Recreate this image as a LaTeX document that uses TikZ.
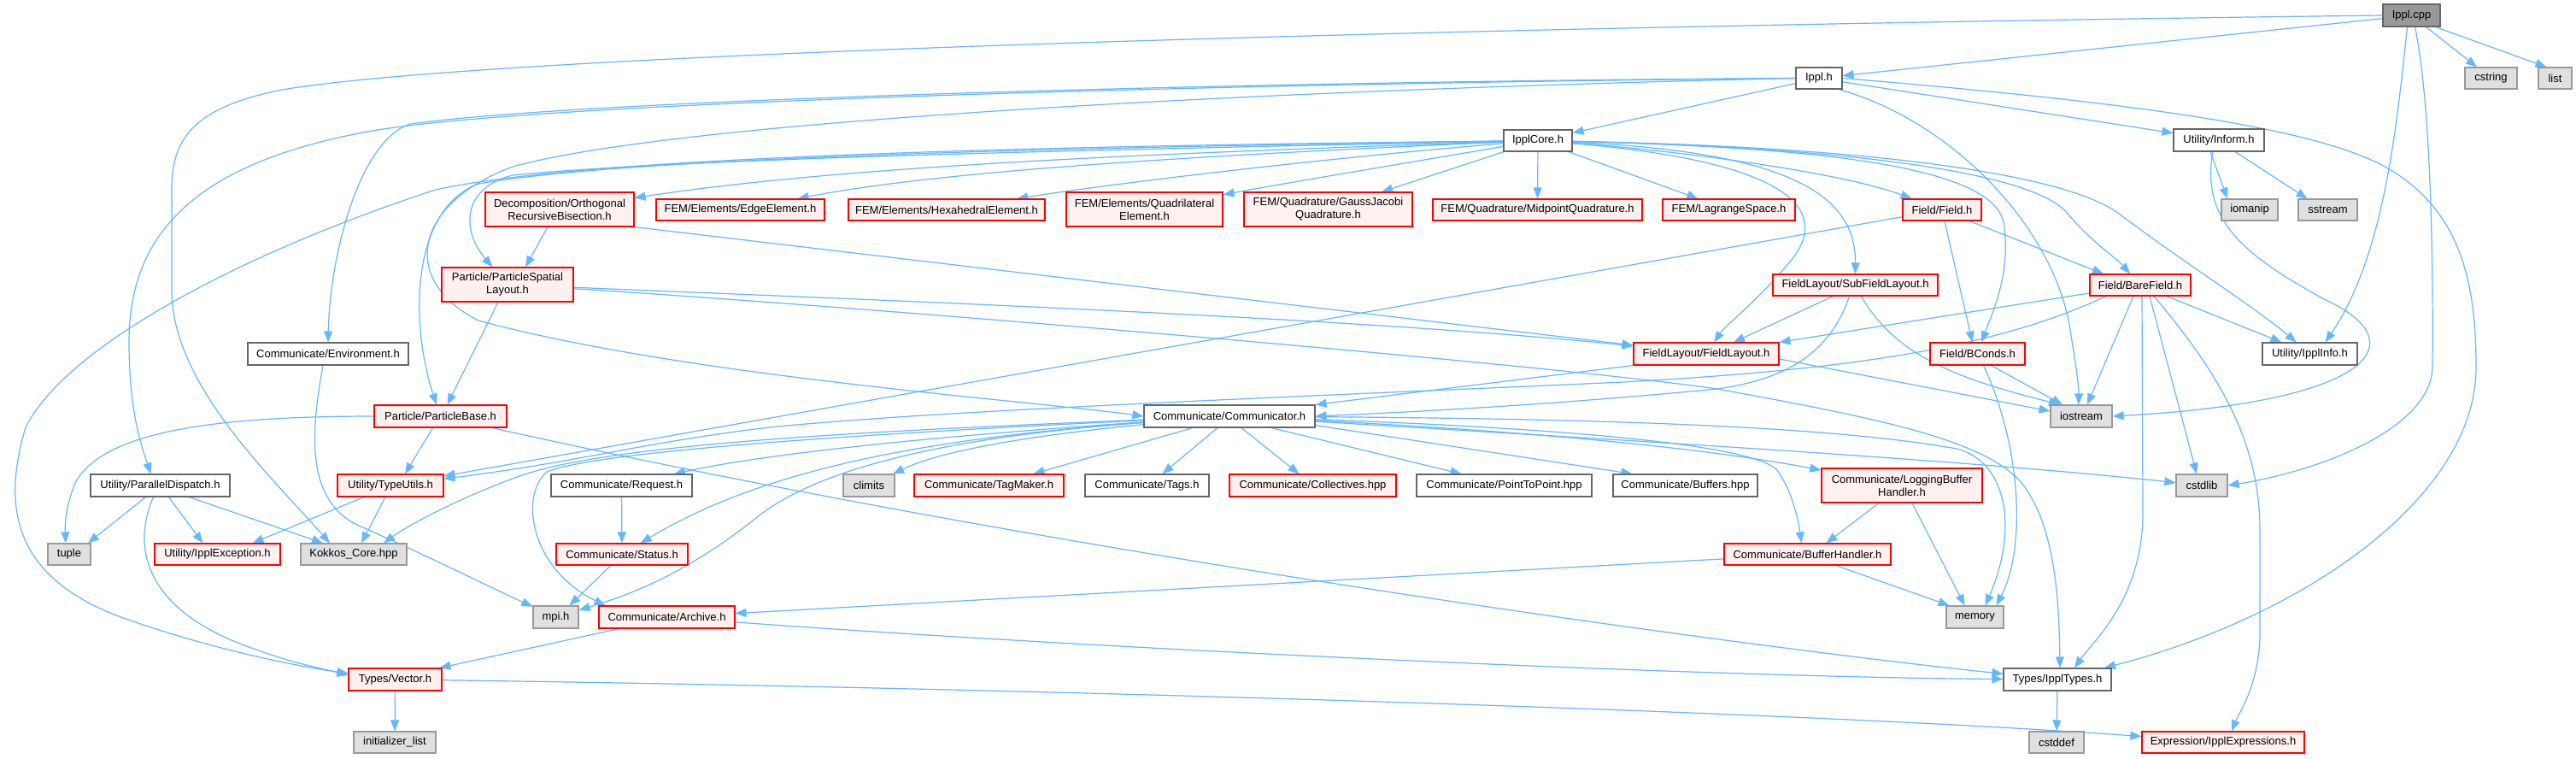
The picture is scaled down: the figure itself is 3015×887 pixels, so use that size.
\documentclass[tikz,border=0pt]{standalone}
\usepackage{fontspec}
\setmainfont{Liberation Sans}
\usetikzlibrary{arrows.meta}
\definecolor{edgec}{HTML}{63B8FF}
\definecolor{redfill}{HTML}{FFF0F0}
\definecolor{reddraw}{HTML}{FF0000}
\definecolor{wdraw}{HTML}{666666}
\definecolor{gfill}{HTML}{E0E0E0}
\definecolor{gdraw}{HTML}{999999}
\definecolor{rootfill}{HTML}{999999}
\pgfdeclarelayer{background}
\pgfsetlayers{background,main}
\tikzset{
  box/.style={rectangle, draw, inner sep=0pt, line width=1.1pt, align=center,
    font=\fontsize{13pt}{15pt}\selectfont},
  rbox/.style={box, draw=reddraw, fill=redfill},
  wbox/.style={box, draw=wdraw, fill=white},
  gbox/.style={box, draw=gdraw, fill=gfill},
  rootbox/.style={box, draw=wdraw, fill=rootfill},
  sz/.style 2 args={minimum width=#1pt, minimum height=#2pt},
  edg/.style={draw=edgec, line width=1.2pt, -{Triangle[length=13pt,width=10pt]}}
}
\begin{document}
\begin{tikzpicture}[x=1pt,y=-1pt]
\begin{pgfonlayer}{background}
\fill[white] (0,0) rectangle (3015,887);
\end{pgfonlayer}
\useasboundingbox (0,0) rectangle (3015,887);

% nodes
\node[rootbox, sz={67}{26}] (cpp) at (2822.5,18) {Ippl.cpp};
\node[wbox, sz={54}{25}] (ippl) at (2129,91.5) {Ippl.h};
\node[gbox, sz={61}{25}] (cstring) at (2915.5,91.5) {cstring};
\node[gbox, sz={39}{25}] (list) at (2990.5,91.5) {list};
\node[wbox, sz={80}{25}] (core) at (1800,164.5) {IpplCore.h};
\node[wbox, sz={106}{26}] (inform) at (2597,164) {Utility/Inform.h};
\node[rbox, sz={174}{40}] (decomp) at (655,245) {Decomposition/Orthogonal\\RecursiveBisection.h};
\node[rbox, sz={197}{25}] (edge) at (866.5,245.5) {FEM/Elements/EdgeElement.h};
\node[rbox, sz={230}{25}] (hexa) at (1108,245.5) {FEM/Elements/HexahedralElement.h};
\node[rbox, sz={183}{40}] (quad) at (1339.5,245) {FEM/Elements/Quadrilateral\\Element.h};
\node[rbox, sz={197}{40}] (gauss) at (1554.5,245) {FEM/Quadrature/GaussJacobi\\Quadrature.h};
\node[rbox, sz={245}{25}] (midpt) at (1799.5,245.5) {FEM/Quadrature/MidpointQuadrature.h};
\node[rbox, sz={155}{25}] (lagr) at (2023.5,245.5) {FEM/LagrangeSpace.h};
\node[rbox, sz={92}{25}] (field) at (2273,245.5) {Field/Field.h};
\node[gbox, sz={66}{25}] (iomanip) at (2633,245.5) {iomanip};
\node[gbox, sz={69}{25}] (sstream) at (2724.5,245.5) {sstream};
\node[rbox, sz={154}{40}] (psl) at (594,333) {Particle/ParticleSpatial\\Layout.h};
\node[rbox, sz={193}{25}] (subfl) at (2171.5,333.5) {FieldLayout/SubFieldLayout.h};
\node[rbox, sz={118}{25}] (bare) at (2505,333.5) {Field/BareField.h};
\node[wbox, sz={188}{26}] (env) at (384,414) {Communicate/Environment.h};
\node[rbox, sz={170}{26}] (fl) at (1997,414) {FieldLayout/FieldLayout.h};
\node[rbox, sz={111}{26}] (bconds) at (2314.5,414) {Field/BConds.h};
\node[wbox, sz={111}{26}] (info) at (2703.5,414) {Utility/IpplInfo.h};
\node[rbox, sz={155}{26}] (pbase) at (515.5,487) {Particle/ParticleBase.h};
\node[wbox, sz={200}{26}] (comm) at (1439,487) {Communicate/Communicator.h};
\node[gbox, sz={72}{26}] (iostream) at (2436,487) {iostream};
\node[wbox, sz={163}{26}] (pdisp) at (187.5,568) {Utility/ParallelDispatch.h};
\node[rbox, sz={124}{26}] (tutils) at (457,568) {Utility/TypeUtils.h};
\node[wbox, sz={165}{26}] (request) at (727.5,568) {Communicate/Request.h};
\node[gbox, sz={60}{26}] (climits) at (1017,568) {climits};
\node[rbox, sz={175}{26}] (tagm) at (1157.5,568) {Communicate/TagMaker.h};
\node[wbox, sz={145}{26}] (tags) at (1342.5,568) {Communicate/Tags.h};
\node[rbox, sz={195}{26}] (coll) at (1536.5,568) {Communicate/Collectives.hpp};
\node[wbox, sz={205}{26}] (p2p) at (1760.5,568) {Communicate/PointToPoint.hpp};
\node[wbox, sz={169}{26}] (buffers) at (1972.5,568) {Communicate/Buffers.hpp};
\node[rbox, sz={188}{40}] (logbh) at (2226,568) {Communicate/LoggingBuffer\\Handler.h};
\node[gbox, sz={60}{26}] (cstdlib) at (2577,568) {cstdlib};
\node[gbox, sz={50}{25}] (tuple) at (81,648.5) {tuple};
\node[rbox, sz={147}{25}] (iexc) at (254.5,648.5) {Utility/IpplException.h};
\node[gbox, sz={124}{25}] (kokkos) at (414,648.5) {Kokkos\_Core.hpp};
\node[rbox, sz={154}{25}] (status) at (728,648.5) {Communicate/Status.h};
\node[rbox, sz={195}{25}] (bufh) at (2115.5,648.5) {Communicate/BufferHandler.h};
\node[gbox, sz={53}{26}] (mpi) at (650.5,722) {mpi.h};
\node[rbox, sz={159}{26}] (archive) at (780.5,722) {Communicate/Archive.h};
\node[gbox, sz={67}{26}] (memory) at (2311.5,722) {memory};
\node[rbox, sz={109}{26}] (vector) at (462.5,795) {Types/Vector.h};
\node[wbox, sz={126}{26}] (types) at (2408,795) {Types/IpplTypes.h};
\node[gbox, sz={96}{25}] (initl) at (462,868.5) {initializer\_list};
\node[gbox, sz={64}{25}] (cstddef) at (2407,868.5) {cstddef};
\node[rbox, sz={190}{25}] (iexpr) at (2602,868.5) {Expression/IpplExpressions.h};

\begin{pgfonlayer}{background}
% Ippl.cpp
\draw[edg] (cpp) -- (ippl);
\draw[edg] (cpp) -- (cstring);
\draw[edg] ([xshift=28pt]cpp.south) -- ([xshift=-10pt]list.north);
\draw[edg] ([xshift=-5pt]cpp.south) .. controls (2805,150) and (2790,300) .. ([xshift=18pt]info.north);
\draw[edg] ([xshift=4pt]cpp.south) .. controls (2845,120) and (2848,300) .. (2847,430) .. controls (2845,500) and (2720,550) .. (cstdlib.east);
\draw[edg] (cpp.west) .. controls (1800,30) and (600,60) .. (330,105) .. controls (230,125) and (201,160) .. (201,220) -- (201,340) .. controls (201,450) and (320,560) .. ([xshift=-28pt]kokkos.north);
% Ippl.h
\draw[edg] (ippl) -- (core);
\draw[edg] (ippl) -- (inform);
\draw[edg] ([xshift=23pt]ippl.south) .. controls (2280,140) and (2400,260) .. (2422,380) .. controls (2430,430) and (2433,450) .. ([xshift=-3pt]iostream.north);
\draw[edg] (ippl.east) .. controls (2500,120) and (2720,150) .. (2800,200) .. controls (2880,250) and (2898,330) .. (2898,430) .. controls (2898,580) and (2700,720) .. ([xshift=55pt]types.north);
\draw[edg] (ippl.west) .. controls (1500,95) and (700,115) .. (480,145) .. controls (420,165) and (386,300) .. (env.north);
\draw[edg] (ippl.west) .. controls (1500,97) and (600,118) .. (420,156) .. controls (220,195) and (151,280) .. (151,400) .. controls (151,480) and (165,520) .. ([xshift=-11pt]pdisp.north);
\draw[edg] (ippl.west) .. controls (1500,105) and (800,140) .. (600,195) .. controls (480,240) and (470,330) .. (560,375) .. controls (800,440) and (1200,468) .. (comm.west);
% Inform
\draw[edg] ([xshift=-10pt]inform.south) -- ([xshift=-26pt]iomanip.north);
\draw[edg] ([xshift=19pt]inform.south) -- ([xshift=-24pt]sstream.north);
\draw[edg] ([xshift=-7pt]inform.south) .. controls (2575,260) and (2630,300) .. (2720,350) .. controls (2830,400) and (2780,470) .. (iostream.east);
% IpplCore left
\draw[edg] (core) .. controls (1400,178) and (1000,192) .. (decomp);
\draw[edg] (core) .. controls (1400,182) and (1100,200) .. (edge);
\draw[edg] (core) .. controls (1550,185) and (1300,215) .. (hexa);
\draw[edg] (core) .. controls (1650,190) and (1500,215) .. (quad);
\draw[edg] (core) -- (gauss);
\draw[edg] (core) -- (midpt);
\draw[edg] (core) -- (lagr);
\draw[edg] (core) .. controls (1300,175) and (800,185) .. (600,205) .. controls (540,220) and (540,270) .. (psl);
\draw[edg] (core) .. controls (1300,172) and (750,182) .. (560,215) .. controls (480,245) and (480,380) .. (pbase);
\draw[edg] (core) .. controls (1300,170) and (700,180) .. (510,222) .. controls (300,290) and (80,400) .. (30,500) .. controls (0,600) and (20,680) .. (150,725) .. controls (250,760) and (350,780) .. (vector);
% IpplCore right
\draw[edg] (core) .. controls (1950,175) and (2150,200) .. (field);
\draw[edg] (core) .. controls (2100,178) and (2172,230) .. (subfl);
\draw[edg] (core) .. controls (2050,185) and (2150,230) .. (2100,300) .. controls (2060,350) and (2020,380) .. (fl);
\draw[edg] (core) .. controls (2100,172) and (2330,190) .. (2345,260) .. controls (2355,320) and (2330,370) .. (bconds);
\draw[edg] (core) .. controls (2150,172) and (2380,200) .. (2420,250) .. controls (2450,285) and (2475,300) .. (bare);
\draw[edg] (core) .. controls (2200,172) and (2420,205) .. (2480,250) .. controls (2560,310) and (2640,360) .. (info);
% Field.h
\draw[edg] (field) -- (tutils);
\draw[edg] ([xshift=3pt]field.south) -- ([xshift=-6pt]bconds.north);
\draw[edg] ([xshift=32pt]field.south) -- ([xshift=-43pt]bare.north);
% SubFieldLayout
\draw[edg] ([xshift=-26pt]subfl.south) -- ([xshift=32pt]fl.north);
\draw[edg] ([xshift=-7pt]subfl.south) .. controls (2140,420) and (2080,445) .. (2010,455) .. controls (1800,475) and (1650,482) .. (comm.east);
\draw[edg] ([xshift=7pt]subfl.south) .. controls (2220,420) and (2300,445) .. ([xshift=-25pt]iostream.north);
% BareField
\draw[edg] (bare) -- (fl);
\draw[edg] ([xshift=-40pt]bare.south) .. controls (2330,410) and (2150,433) .. (1900,447) .. controls (1500,465) and (1100,480) .. (900,500) .. controls (750,518) and (680,540) .. (tutils);
\draw[edg] ([xshift=31pt]bare.south) -- ([xshift=-33pt]info.north);
\draw[edg] ([xshift=-8pt]bare.south) -- ([xshift=7pt]iostream.north);
\draw[edg] ([xshift=2pt]bare.south) -- (2508,600) .. controls (2508,700) and (2450,750) .. ([xshift=20pt]types.north);
\draw[edg] ([xshift=11pt]bare.south) -- ([xshift=-6pt]cstdlib.north);
\draw[edg] ([xshift=16pt]bare.south) .. controls (2600,440) and (2645,520) .. (2645,620) -- (2645,740) .. controls (2645,800) and (2620,835) .. ([xshift=10pt]iexpr.north);
% FieldLayout
\draw[edg] (fl.south west) -- (comm.north east);
\draw[edg] ([yshift=-6pt]fl.east) -- ([yshift=6pt]iostream.west);
% BConds
\draw[edg] ([xshift=16pt]bconds.south) -- ([xshift=-22pt]iostream.north);
\draw[edg] ([xshift=7pt]bconds.south) .. controls (2365,520) and (2372,640) .. ([xshift=25pt]memory.north);
% Decomposition / ParticleSpatialLayout
\draw[edg] ([xshift=-14pt]decomp.south) -- ([xshift=21pt]psl.north);
\draw[edg] (decomp.south east) -- (fl);
\draw[edg] (psl) .. controls (1000,350) and (1600,372) .. (fl);
\draw[edg] (psl) .. controls (1000,358) and (1800,425) .. (2010,455) .. controls (2200,490) and (2330,515) .. (2370,570) .. controls (2405,620) and (2410,700) .. ([xshift=3pt]types.north);
\draw[edg] ([xshift=-11pt]psl.south) -- ([xshift=8pt]pbase.north);
% ParticleBase
\draw[edg] (pbase.west) .. controls (250,487) and (120,505) .. (88,565) .. controls (76,595) and (76,615) .. ([xshift=-4pt]tuple.north);
\draw[edg] ([xshift=-9pt]pbase.south) -- ([xshift=17pt]tutils.north);
\draw[edg] (pbase) .. controls (1200,640) and (2000,752) .. (types);
% ParallelDispatch
\draw[edg] ([xshift=-17pt]pdisp.south) -- ([xshift=22pt]tuple.north);
\draw[edg] ([xshift=10pt]pdisp.south) -- ([xshift=-17pt]iexc.north);
\draw[edg] ([xshift=34pt]pdisp.south) -- ([xshift=-36pt]kokkos.north);
\draw[edg] ([xshift=-8pt]pdisp.south) .. controls (150,650) and (180,720) .. (300,760) .. controls (340,775) and (380,783) .. ([yshift=5pt]vector.west);
% TypeUtils
\draw[edg] ([xshift=-31pt]tutils.south) -- ([xshift=41pt]iexc.north);
\draw[edg] ([xshift=-6pt]tutils.south) -- ([xshift=9pt]kokkos.north);
% Request / Status / Environment
\draw[edg] (request) -- (status);
\draw[edg] ([xshift=-13pt]status.south) -- ([xshift=16pt]mpi.north);
\draw[edg] ([xshift=-6pt]env.south) .. controls (365,500) and (355,585) .. (420,615) .. controls (500,650) and (580,690) .. (mpi);
% Archive / Vector / IpplTypes
\draw[edg] ([xshift=-56pt]archive.south) -- ([xshift=52pt]vector.north);
\draw[edg] (archive) .. controls (1300,760) and (2000,792) .. (types);
\draw[edg] (vector) -- (initl);
\draw[edg] (vector) .. controls (1200,805) and (2100,832) .. (iexpr);
\draw[edg] (types) -- (cstddef);
% Communicator
\draw[edg] (comm) .. controls (1200,510) and (1100,528) .. (climits);
\draw[edg] ([xshift=-43pt]comm.south) -- ([xshift=52pt]tagm.north);
\draw[edg] ([xshift=-14pt]comm.south) -- ([xshift=18pt]tags.north);
\draw[edg] ([xshift=14pt]comm.south) -- ([xshift=-16pt]coll.north);
\draw[edg] ([xshift=49pt]comm.south) -- ([xshift=-50pt]p2p.north);
\draw[edg] ([yshift=3pt]comm.south east) -- ([xshift=-62pt]buffers.north);
\draw[edg] (comm) .. controls (1800,505) and (2000,525) .. (logbh);
\draw[edg] (comm) .. controls (1800,500) and (2050,518) .. (2080,550) .. controls (2098,575) and (2105,610) .. ([xshift=-7pt]bufh.north);
\draw[edg] (comm) .. controls (1900,490) and (2150,500) .. (2290,525) .. controls (2350,540) and (2362,620) .. ([xshift=12pt]memory.north);
\draw[edg] (comm) .. controls (1900,515) and (2300,538) .. (cstdlib);
\draw[edg] (comm) .. controls (1000,505) and (700,520) .. (600,560) .. controls (520,590) and (470,620) .. ([xshift=35pt]kokkos.north);
\draw[edg] (comm) .. controls (1000,508) and (700,528) .. (640,552) .. controls (608,580) and (620,665) .. ([xshift=-72pt]archive.north);
\draw[edg] (comm) .. controls (1100,510) and (900,530) .. (request);
\draw[edg] (comm) .. controls (1100,512) and (900,545) .. (status);
\draw[edg] (comm) .. controls (1100,512) and (950,550) .. (880,610) .. controls (800,672) and (740,695) .. (mpi);
% Buffer handlers
\draw[edg] ([xshift=-27pt]logbh.south) -- ([xshift=22pt]bufh.north);
\draw[edg] ([xshift=12pt]logbh.south) -- ([xshift=-12pt]memory.north);
\draw[edg] ([xshift=33pt]bufh.south) -- ([xshift=-30pt]memory.north);
\draw[edg] (bufh) -- (archive);
\end{pgfonlayer}
\end{tikzpicture}
\end{document}
